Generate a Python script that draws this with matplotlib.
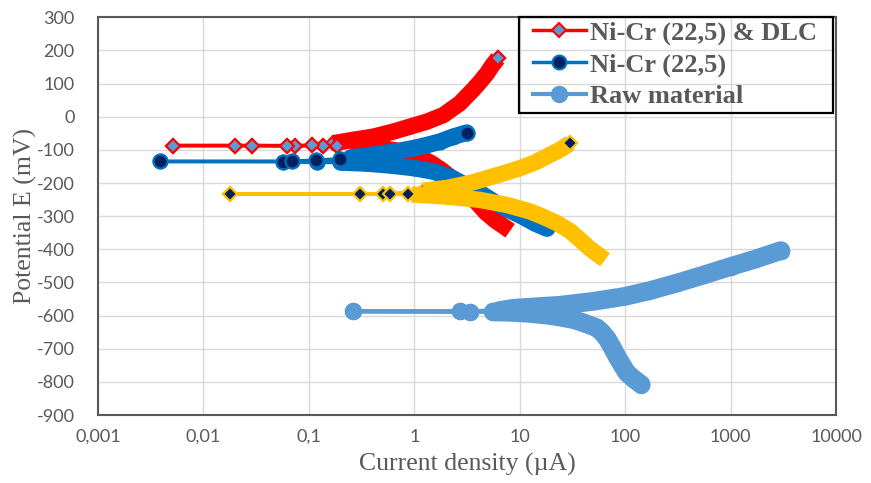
import matplotlib
matplotlib.use('Agg')
import matplotlib.pyplot as plt
from matplotlib.patches import Rectangle
from matplotlib.font_manager import FontProperties

# ---------------- data ----------------
x_ticks = [0.001, 0.01, 0.1, 1, 10, 100, 1000, 10000]
x_tick_labels = ['0,001', '0,01', '0,1', '1', '10', '100', '1000', '10000']
y_ticks = [-900, -800, -700, -600, -500, -400, -300, -200, -100, 0, 100, 200, 300]
y_tick_labels = ['-900', '-800', '-700', '-600', '-500', '-400', '-300', '-200',
                 '-100', '0', '100', '200', '300']

# Ni-Cr (22,5) & DLC  (current density µA, potential mV)
dlc_cath_i = [7.0, 5.8, 4.8, 4.0, 3.3, 2.7, 2.2, 1.8, 1.45, 1.1, 0.8, 0.5, 0.3]
dlc_cath_E = [-330, -312, -290, -262, -235, -207, -182, -160, -140, -120, -106, -95, -90]
dlc_corr_i = [0.185, 0.136, 0.074, 0.029, 0.0052, 0.020, 0.062, 0.107]
dlc_corr_E = [-89, -88, -88, -87, -87, -87, -87, -86]
dlc_anod_i = [0.17, 0.26, 0.41, 0.63, 0.91, 1.31, 1.89, 2.2, 2.72, 3.1, 3.6, 4.2, 4.9, 5.5, 6.2]
dlc_anod_E = [-80, -70, -60, -45, -30, -15, 5, 20, 41, 60, 81, 105, 131, 155, 176]

# Ni-Cr (22,5)
nicr_cath_i = [18.0, 14.0, 10.9, 8.0, 6.0, 4.2, 3.0, 2.2, 1.5, 1.0, 0.6, 0.35, 0.2]
nicr_cath_E = [-337, -322, -303, -282, -261, -230, -205, -182, -165, -155, -147, -141, -138]
nicr_corr_i = [0.12, 0.057, 0.0039, 0.069, 0.118, 0.197]
nicr_corr_E = [-138, -136, -135, -134, -131, -127]
nicr_anod_i = [0.25, 0.36, 0.51, 0.72, 0.98, 1.3, 1.76, 2.35, 3.15]
nicr_anod_E = [-123, -117, -110, -103, -95, -86, -75, -60, -48]

# Raw material
raw_cath_i = [142, 120, 104, 93, 83.5, 75, 67, 60, 54, 43, 32.4, 20, 12, 8.0, 5.6]
raw_cath_E = [-808, -790, -773, -748, -723, -695, -668, -650, -637, -625, -612, -600, -593, -590, -589]
raw_corr_i = [3.4, 0.264, 2.72]
raw_corr_E = [-588, -587, -587]
raw_anod_i = [6.4, 8.7, 15, 24, 50, 100, 170, 309, 550, 1000, 1700, 3000]
raw_anod_E = [-585, -578, -573, -569, -557, -542, -525, -502, -478, -452, -430, -404]

# fourth (unlabelled) series
yel_cath_i = [55.8, 45, 37.4, 30, 22.5, 17, 12.6, 7.5, 4.2, 2.03, 1.13]
yel_cath_E = [-417, -395, -371, -345, -321, -303, -286, -266, -251, -241, -236]
yel_corr_i = [0.87, 0.50, 0.0178, 0.306, 0.59]
yel_corr_E = [-234, -233, -233, -233, -232]
yel_anod_i = [1.22, 2.03, 3.4, 5.6, 7.5, 10.1, 14, 18, 24, 30]
yel_anod_E = [-223, -215, -200, -180, -168, -155, -138, -120, -100, -80]

# ---------------- figure ----------------
W, H = 871, 483
fig = plt.figure(figsize=(W / 100, H / 100), dpi=100)
L, R, T, B = 98, 836, 17.3, 415
ax = fig.add_axes([L / W, 1 - B / H, (R - L) / W, (B - T) / H])
ax.set_xscale('log')
ax.set_xlim(0.001, 10000)
ax.set_ylim(-900, 300)

grid_c = '#D9D9D9'
txt_c = '#595959'
ax.set_axisbelow(True)
ax.grid(True, which='major', color=grid_c, lw=1.0)
ax.minorticks_off()
ax.set_xticks(x_ticks)
ax.set_xticklabels(x_tick_labels)
ax.set_yticks(y_ticks)
ax.set_yticklabels(y_tick_labels)
ax.tick_params(axis='both', length=0, colors=txt_c, labelsize=13)
ax.tick_params(axis='y', pad=17)
ax.tick_params(axis='x', pad=10)
for lab in ax.get_xticklabels() + ax.get_yticklabels():
    lab.set_fontfamily('Lato')
for sp in ax.spines.values():
    sp.set_color(txt_c)
    sp.set_linewidth(1.5)

serif = ['Liberation Serif', 'DejaVu Serif']
ax.set_xlabel('Current density (µA)', fontsize=18.5, color=txt_c, family=serif)
ax.set_ylabel('Potential E (mV)', fontsize=18.5, color=txt_c, family=serif)
ax.xaxis.set_label_coords(0.5, -0.095)
ax.yaxis.set_label_coords(-0.083, 0.5)

series = [
    dict(label='Ni-Cr (22,5) & DLC', cath=(dlc_cath_i, dlc_cath_E), corr=(dlc_corr_i, dlc_corr_E),
         anod=(dlc_anod_i, dlc_anod_E), color='#FF0000', marker='D', mfc='#5B9BD5', mec='#FF0000',
         ms=7.0, mew=1.5, band=11.8, caps=('projecting', 'butt'), lw=2.5, legend=True),
    dict(label='Ni-Cr (22,5)', cath=(nicr_cath_i, nicr_cath_E), corr=(nicr_corr_i, nicr_corr_E),
         anod=(nicr_anod_i, nicr_anod_E), color='#0070C0', marker='o', mfc='#002060', mec='#0070C0',
         ms=10.0, mew=1.5, band=12.0, caps=('round', 'round'), lw=2.5, legend=True),
    dict(label='Raw material', cath=(raw_cath_i, raw_cath_E), corr=(raw_corr_i, raw_corr_E),
         anod=(raw_anod_i, raw_anod_E), color='#5B9BD5', marker='o', mfc='#5B9BD5', mec='#5B9BD5',
         ms=11.5, mew=1.0, band=13.5, caps=('round', 'round'), lw=3.0, legend=True),
    dict(label='_nolegend_', cath=(yel_cath_i, yel_cath_E), corr=(yel_corr_i, yel_corr_E),
         anod=(yel_anod_i, yel_anod_E), color='#FFC000', marker='D', mfc='#002060', mec='#FFC000',
         ms=7.0, mew=1.5, band=11.8, caps=('projecting', 'butt'), lw=2.5, legend=False),
]

handles = []
for k, s in enumerate(series):
    z = 2 + 0.1 * k
    all_i = s['cath'][0] + s['corr'][0] + s['anod'][0]
    all_E = s['cath'][1] + s['corr'][1] + s['anod'][1]
    mk = dict(marker=s['marker'], mfc=s['mfc'], mec=s['mec'], ms=s['ms'], mew=s['mew'])
    ln, = ax.plot(all_i, all_E, color=s['color'], lw=s['lw'], zorder=z, label=s['label'], **mk)
    for (bi, bE), cap in zip((s['cath'], s['anod']), s['caps']):
        ax.plot(bi, bE, color=s['mec'], lw=s['band'], solid_capstyle=cap,
                solid_joinstyle='round', zorder=z + 0.01)
    top_i = s['corr'][0] + s['anod'][0][-1:]
    top_E = s['corr'][1] + s['anod'][1][-1:]
    ax.plot(top_i, top_E, ls='none', zorder=z + 0.02, **mk)
    if s['legend']:
        handles.append(ln)

leg = ax.legend(handles=handles, loc='upper left', bbox_to_anchor=(533 / W, 1 - 21 / H),
                bbox_transform=fig.transFigure, frameon=False,
                prop=FontProperties(family=serif, weight='bold', size=19),
                labelcolor=txt_c, handlelength=2.0, handletextpad=0.15, borderpad=0,
                labelspacing=0.3, borderaxespad=0, numpoints=1)
leg.set_zorder(10)
fig.add_artist(Rectangle((519 / W, 1 - 113 / H), 314 / W, 96 / H, transform=fig.transFigure,
                         fill=False, ec='black', lw=1.6, zorder=11))

fig.savefig('out.png', dpi=100)
